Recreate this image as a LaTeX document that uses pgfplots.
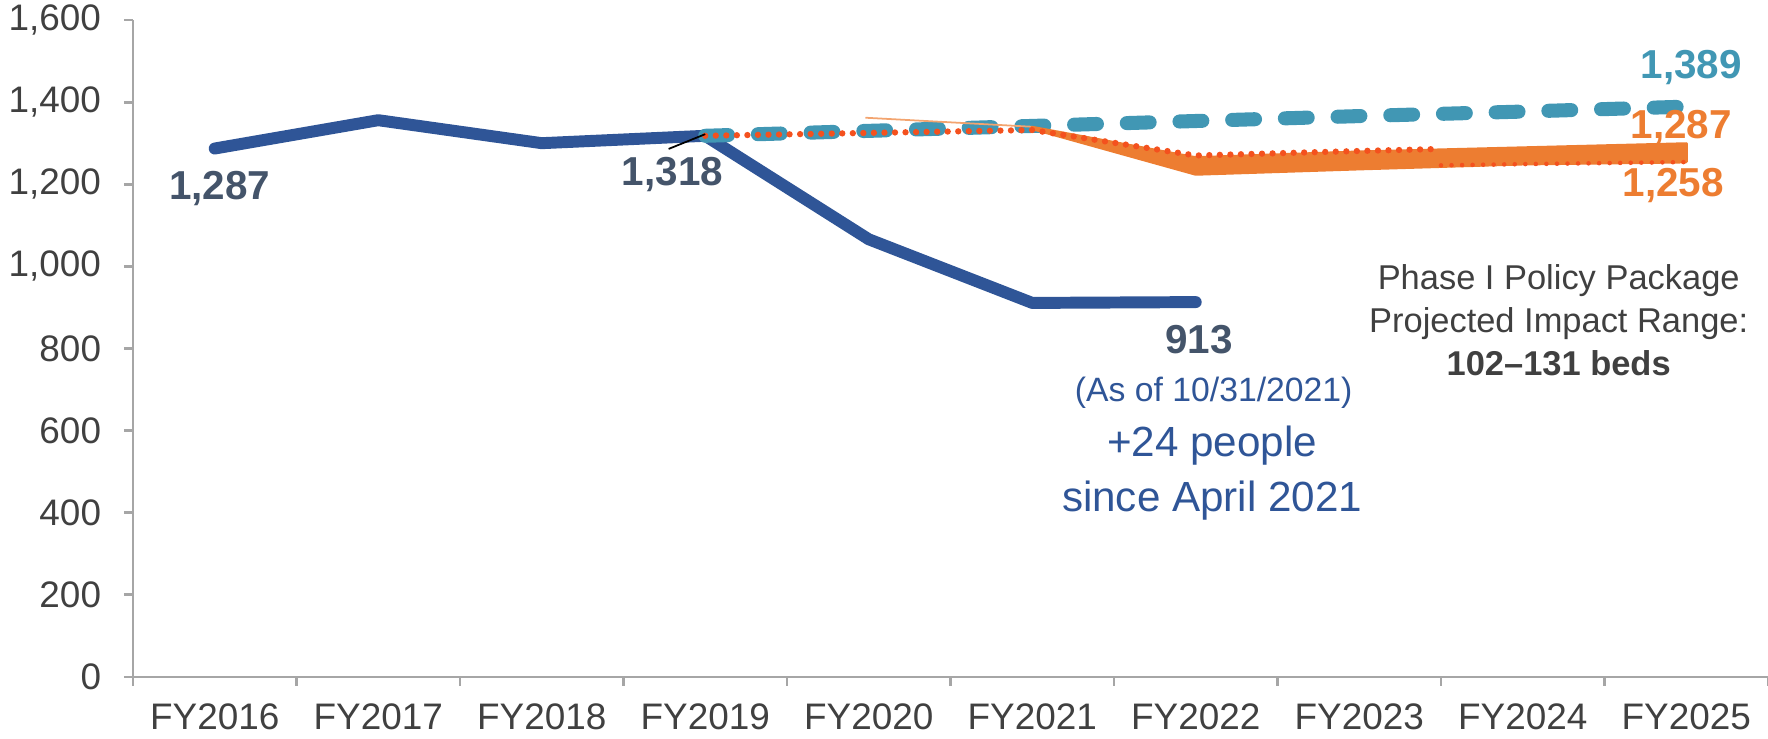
\documentclass[border=0pt]{standalone}
\usepackage{pgfplots}
\pgfplotsset{compat=1.18}
\usepackage{fontspec}
\setmainfont{Liberation Sans}

\definecolor{lineblue}{HTML}{2F5597}
\definecolor{dashteal}{HTML}{4197B4}
\definecolor{orng}{HTML}{ED7D31}
\definecolor{dotred}{HTML}{F4511E}
\definecolor{lblgray}{HTML}{44546A}
\definecolor{txtgray}{HTML}{404040}
\definecolor{axisgray}{HTML}{A6A6A6}

\begin{document}
\begin{tikzpicture}
\begin{axis}[
    scale only axis,
    width=16.35cm,
    height=6.57cm,
    xmin=-0.5, xmax=9.5,
    ymin=0, ymax=1600,
    axis lines=left,
    axis line style={-, draw=axisgray, line width=0.8pt},
    tick align=outside,
    major tick length=0.09cm,
    tick style={draw=axisgray, line width=0.8pt},
    xtick={-0.5,0.5,...,9.5},
    xticklabels={},
    extra x ticks={0,1,2,3,4,5,6,7,8,9},
    extra x tick labels={FY2016,FY2017,FY2018,FY2019,FY2020,FY2021,FY2022,FY2023,FY2024,FY2025},
    extra x tick style={major tick length=0pt},
    ytick={0,200,...,1600},
    tick label style={font=\fontsize{10.5}{12}\selectfont, text=txtgray},
    xticklabel style={yshift=-4pt},
    yticklabel style={xshift=-3pt},
    /pgf/number format/.cd, 1000 sep={,}, assume math mode=true,
    /pgfplots/.cd,
    clip=false,
]
% actual population
\addplot[lineblue, line width=3.4pt, line cap=round, line join=round] coordinates {
    (0,1287) (1,1356) (2,1300) (3,1318) (4,1066) (5,911) (6,913)
};
% projection without policy
\addplot[dashteal, line width=4pt, line cap=round, dash pattern=on 6.5pt off 8.5pt] coordinates {
    (3,1318) (4,1330) (5,1342) (6,1354) (7,1366) (8,1377) (9,1389)
};
% thin orange stray line
\addplot[orng!70, line width=0.5pt] coordinates {(3.98,1362) (5.0,1340)};
% projected impact range
\addplot[orng, fill=orng, line width=1pt, line join=round] coordinates {
    (5,1338) (6,1264) (7,1278) (8,1288) (9,1298)
    (9,1255) (8,1250) (7,1238) (6,1225) (5,1336)
} -- cycle;
% dotted projections
\addplot[dotred, line width=1.8pt, line cap=round, dash pattern=on 0pt off 3pt] coordinates {
    (3,1318) (4,1325) (5,1332) (6,1270) (7,1281) (7.5,1286)
};
\addplot[dotred, line width=1.3pt, line cap=round, dash pattern=on 0pt off 3pt] coordinates {
    (7.5,1246) (8,1249) (9,1254)
};
% leader line
\draw[black, line width=0.5pt] (axis cs:2.776,1286) -- (axis cs:3.0,1322);

% labels
\node[text=lblgray, font=\fontsize{11.5}{13}\selectfont\bfseries] at (axis cs:0.03,1190) {1,287};
\node[text=lblgray, font=\fontsize{11.5}{13}\selectfont\bfseries] at (axis cs:2.80,1223) {1,318};
\node[text=lblgray, font=\fontsize{11.5}{13}\selectfont\bfseries] at (axis cs:6.02,822) {913};
\node[text=lineblue, font=\fontsize{9.6}{11}\selectfont] at (axis cs:6.11,693) {(As of 10/31/2021)};
\node[text=lineblue, font=\fontsize{12}{15.5}\selectfont, align=center] at (axis cs:6.10,497) {+24 people\\since April 2021};
\node[text=dashteal, font=\fontsize{11.5}{13}\selectfont\bfseries] at (axis cs:9.03,1484) {1,389};
\node[text=orng, font=\fontsize{11.5}{13}\selectfont\bfseries] at (axis cs:8.97,1338) {1,287};
\node[text=orng, font=\fontsize{11.5}{13}\selectfont\bfseries] at (axis cs:8.92,1196) {1,258};
\node[text=txtgray, font=\fontsize{9.8}{12.2}\selectfont, align=center] at (axis cs:8.22,869)
    {Phase I Policy Package\\Projected Impact Range:\\{\bfseries 102–131 beds}};
\end{axis}
\pgfresetboundingbox
\path[use as bounding box] (-1.33cm,-0.62cm) rectangle (16.35cm,6.77cm);
\end{tikzpicture}
\end{document}
